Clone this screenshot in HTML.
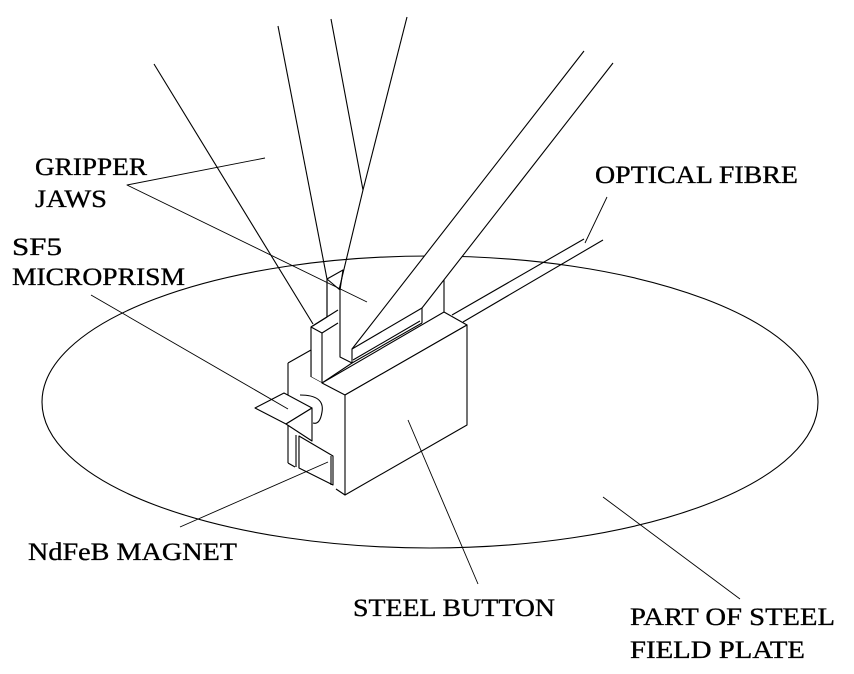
<!DOCTYPE html>
<html><head><meta charset="utf-8"><style>
html,body{margin:0;padding:0;background:#fff;width:854px;height:674px;overflow:hidden}
svg{display:block}
text{font-family:"Liberation Serif",serif;font-size:25px;fill:#000;stroke:#000;stroke-width:0.35}
</style></head><body>
<svg width="854" height="674" viewBox="0 0 854 674">
<g fill="none" stroke="#000" stroke-width="1.1" stroke-linejoin="round">
  <ellipse cx="430" cy="402" rx="388" ry="146"/>
  <g>
    <line x1="154" y1="64" x2="313" y2="324"/>
    <line x1="278" y1="26" x2="327" y2="279"/>
    <polyline points="331,19 363,190 339,290"/>
    <line x1="407" y1="17" x2="363" y2="190"/>
    <polyline points="327,279 343,270 340,290"/>
  </g>
  <g>
    <line x1="584" y1="239" x2="452" y2="315"/>
    <line x1="603" y1="240" x2="463" y2="322"/>
  </g>
  <g fill="#fff">
    <polygon points="584,51 613,63 422,308 422,323 352,363 352,349 437,240" stroke="none"/>
    <polyline points="584,51 352,349 352,363" fill="none"/>
    <polyline points="613,63 422,308 422,323" fill="none"/>
    <line x1="352" y1="349" x2="422" y2="308"/>
    <line x1="444" y1="280" x2="444" y2="312"/>
  </g>
  <g fill="#fff">
    <polygon points="327,279 340,290 340,357 352,363 322,383 311,377 311,327 327,317"/>
    <line x1="327" y1="279" x2="327" y2="317"/>
    <polyline points="311,327 338,310"/>
    <polyline points="311,327 322,333 338,323"/>
    <line x1="322" y1="333" x2="322" y2="383"/>
  </g>
  <g fill="#fff">
    <polygon points="288,363 311,350 311,377 322,383 336,392 336,490 299,468 288,463" stroke="none"/>
    <line x1="288" y1="363" x2="311" y2="350"/>
    <line x1="311" y1="350" x2="311" y2="377"/>
    <line x1="288" y1="363" x2="288" y2="463"/>
    <line x1="288" y1="463" x2="295" y2="467"/>
    <line x1="296" y1="435" x2="296" y2="467"/>
    <line x1="299" y1="436" x2="299" y2="468"/>
  </g>
  <g fill="#fff">
    <polygon points="299,436 333,456 333,485 299,468"/>
    <line x1="331" y1="456" x2="331" y2="485"/>
  </g>
  <g fill="#fff">
    <polygon points="322,383 444,312 467,325 345,395"/>
    <polygon points="345,395 467,325 467,425 345,495"/>
    <line x1="336" y1="489" x2="345" y2="495"/>
    <line x1="352" y1="363" x2="422" y2="323"/>
    <line x1="353" y1="360" x2="420" y2="321"/>
  </g>
  <g fill="#fff">
    <path d="M300,395 Q325,395 322,412 Q320,425 313,423"/>
    <polygon points="255,408 284,393 312,408 286,424"/>
    <polygon points="286,424 312,408 312,441"/>
  </g>
  <g stroke-width="0.9">
    <polyline points="265,158 127,185 367,302"/>
    <line x1="91" y1="295" x2="288" y2="409"/>
    <line x1="180" y1="527" x2="328" y2="462"/>
    <line x1="408" y1="420" x2="478" y2="584"/>
    <line x1="603" y1="497" x2="740" y2="599"/>
    <polyline points="607,197 585,243"/>
  </g>
</g>
<g>
  <text x="35" y="175" textLength="112" lengthAdjust="spacingAndGlyphs">GRIPPER</text>
  <text x="35" y="207" textLength="72" lengthAdjust="spacingAndGlyphs">JAWS</text>
  <text x="12" y="255" textLength="50" lengthAdjust="spacingAndGlyphs">SF5</text>
  <text x="12" y="285" textLength="173" lengthAdjust="spacingAndGlyphs">MICROPRISM</text>
  <text x="595" y="183" textLength="203" lengthAdjust="spacingAndGlyphs">OPTICAL FIBRE</text>
  <text x="28" y="560" textLength="209" lengthAdjust="spacingAndGlyphs">NdFeB MAGNET</text>
  <text x="353" y="616" textLength="202" lengthAdjust="spacingAndGlyphs">STEEL BUTTON</text>
  <text x="630" y="625" textLength="205" lengthAdjust="spacingAndGlyphs">PART OF STEEL</text>
  <text x="630" y="658" textLength="175" lengthAdjust="spacingAndGlyphs">FIELD PLATE</text>
</g>
</svg>
</body></html>
